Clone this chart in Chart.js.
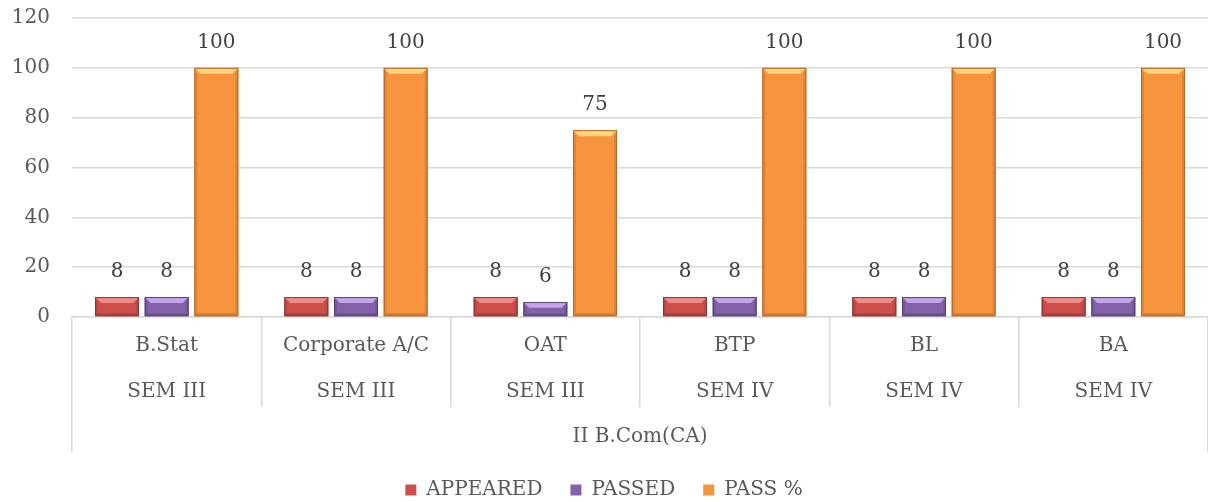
<!DOCTYPE html>
<html>
<head>
<meta charset="utf-8">
<script src="https://cdn.jsdelivr.net/npm/chart.js@4.4.0/dist/chart.umd.min.js"></script>
<style>
  html, body { margin: 0; padding: 0; background: #fff; }
</style>
</head>
<body>
<canvas id="resultChart" width="1208" height="502"></canvas>
<script>
const subjects = ['B.Stat', 'Corporate A/C', 'OAT', 'BTP', 'BL', 'BA'];
const semesters = ['SEM III', 'SEM III', 'SEM III', 'SEM IV', 'SEM IV', 'SEM IV'];
const course = ['II B.Com(CA)'];
const appeared = [8, 8, 8, 8, 8, 8];
const passed = [8, 8, 6, 8, 8, 8];
const passPercent = [100, 100, 75, 100, 100, 100];

const serif = '"DejaVu Serif", "Liberation Serif", serif';
Chart.defaults.font.family = serif;
Chart.defaults.color = '#595959';

// bevelled top edge and darker sides, like the office-style bars
const bevelBars = {
    id: 'bevelBars',
    afterDatasetsDraw(chart) {
        const c = chart.ctx;
        chart.data.datasets.forEach((ds, i) => {
            chart.getDatasetMeta(i).data.forEach(bar => {
                const w = bar.width;
                const l = bar.x - w / 2, r = bar.x + w / 2;
                const t = bar.y, b = bar.base;
                const d = Math.min(6, (b - t) / 2.5);
                c.save();
                c.fillStyle = ds.bevelColor;
                c.beginPath();
                c.moveTo(l, t); c.lineTo(r, t); c.lineTo(r - d, t + d); c.lineTo(l + d, t + d);
                c.closePath(); c.fill();
                c.fillStyle = 'rgba(0,0,0,0.10)';
                c.beginPath();
                c.moveTo(r, t); c.lineTo(r, b); c.lineTo(r - 3, b - 3); c.lineTo(r - 3, t + d);
                c.closePath(); c.fill();
                c.beginPath();
                c.moveTo(l, t); c.lineTo(l, b); c.lineTo(l + 3, b - 3); c.lineTo(l + 3, t + d);
                c.closePath(); c.fill();
                c.fillStyle = 'rgba(0,0,0,0.15)';
                c.beginPath();
                c.moveTo(l, b); c.lineTo(r, b); c.lineTo(r - 3, b - 3); c.lineTo(l + 3, b - 3);
                c.closePath(); c.fill();
                c.strokeStyle = ds.borderColor;
                c.lineWidth = 1;
                c.strokeRect(l + 0.5, t + 0.5, w - 1, b - t - 1);
                c.restore();
            });
        });
    }
};

const valueLabels = {
    id: 'valueLabels',
    afterDatasetsDraw(chart) {
        const c = chart.ctx;
        c.save();
        c.font = '20px ' + serif;
        c.fillStyle = '#404040';
        c.textAlign = 'center';
        c.textBaseline = 'middle';
        chart.data.datasets.forEach((ds, i) => {
            chart.getDatasetMeta(i).data.forEach((bar, j) => {
                c.fillText(ds.data[j], bar.x, bar.y - 25);
            });
        });
        c.restore();
    }
};

const ctx = document.getElementById('resultChart').getContext('2d');
const data = {
    labels: subjects.map((s, i) => [s, semesters[i]]),
    datasets: [
        {
            label: 'APPEARED',
            data: appeared,
            backgroundColor: '#cc4f4c',
            borderColor: '#8a3532',
            bevelColor: '#ee8a87',
            borderWidth: 0
        },
        {
            label: 'PASSED',
            data: passed,
            backgroundColor: '#8263aa',
            borderColor: '#55416f',
            bevelColor: '#c3a4ea',
            borderWidth: 0
        },
        {
            label: 'PASS %',
            data: passPercent,
            backgroundColor: '#f7953f',
            borderColor: '#b56a28',
            bevelColor: '#fcd57e',
            borderWidth: 0
        }
    ]
};

const config = {
    type: 'bar',
    data: data,
    options: {
        responsive: false,
        animation: false,
        categoryPercentage: 0.787,
        barPercentage: 0.886,
        layout: { padding: { top: 18, right: 0, bottom: -8, left: 0 } },
        plugins: {
            legend: {
                position: 'bottom',
                labels: {
                    boxWidth: 11,
                    boxHeight: 11,
                    padding: 28,
                    color: '#595959',
                    font: { size: 20 }
                }
            },
            tooltip: { enabled: false }
        },
        scales: {
            y: {
                min: 0,
                max: 120,
                ticks: { stepSize: 20, padding: 4, font: { size: 20 }, color: '#595959' },
                grid: { color: '#d9d9d9', lineWidth: 1.5, drawTicks: true, tickLength: 18, tickColor: 'rgba(0,0,0,0)' },
                border: { display: false },
                afterFit(scale) { scale.width = 72; }
            },
            x: {
                offset: true,
                grid: { offset: true, drawOnChartArea: false, tickLength: 90, color: '#d9d9d9', lineWidth: 1.5 },
                border: { color: '#d9d9d9', width: 1.5 },
                ticks: {
                    maxRotation: 0, autoSkip: false, padding: -84,
                    font: { size: 20, lineHeight: 46 / 20 }, color: '#595959'
                },
                afterFit(scale) { scale.height = 90; }
            },
            x2: {
                type: 'category',
                labels: course,
                position: 'bottom',
                offset: true,
                grid: { offset: true, drawOnChartArea: false, tickLength: 45, color: '#d9d9d9', lineWidth: 1.5 },
                border: { display: false },
                ticks: { maxRotation: 0, padding: -27, font: { size: 20, lineHeight: 1.2 }, color: '#595959' },
                afterFit(scale) { scale.height = 45; }
            }
        }
    },
    plugins: [bevelBars, valueLabels]
};

const resultChart = new Chart(ctx, config);
</script>
</body>
</html>
